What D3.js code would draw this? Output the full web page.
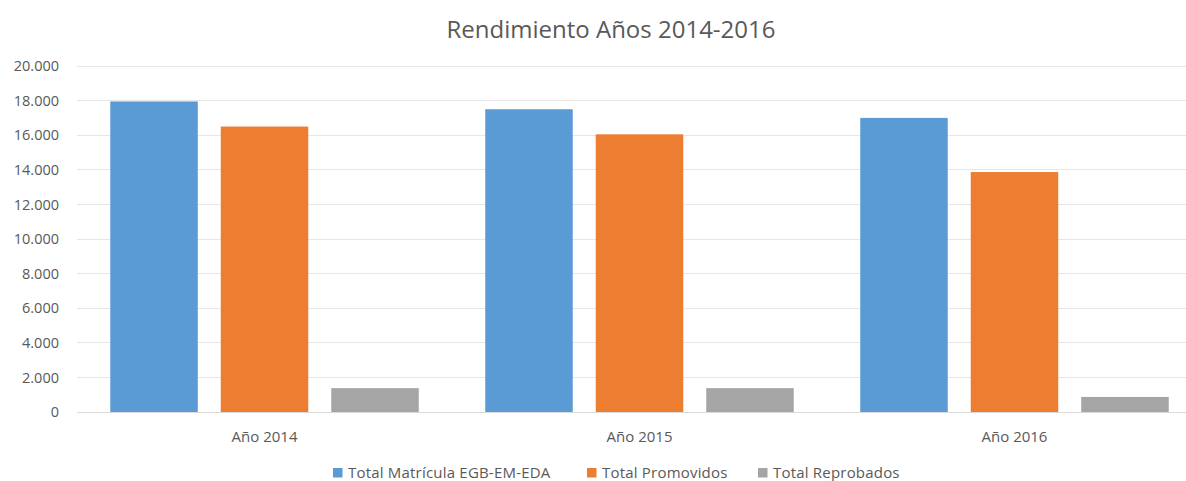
<!DOCTYPE html>
<html><head><meta charset="utf-8">
<script src="https://cdn.jsdelivr.net/npm/d3@7/dist/d3.min.js"></script>
<style>body{margin:0;background:#fff;} text{font-family:"Open Sans",sans-serif;}</style>
</head><body><svg id="c" width="1186" height="481"></svg>
<script>
const categories = ["Año 2014", "Año 2015", "Año 2016"];
const seriesNames = ["Total Matrícula EGB-EM-EDA", "Total Promovidos", "Total Reprobados"];
const matricula = [17950, 17500, 17000];
const promovidos = [16500, 16050, 13870];
const reprobados = [1380, 1380, 870];
const yTicks = [0, 2000, 4000, 6000, 8000, 10000, 12000, 14000, 16000, 18000, 20000];
const colors = ["#5b9bd5", "#ed7d31", "#a5a5a5"];
const seriesValues = [matricula, promovidos, reprobados];

(function () {
const svg = d3.select("#c");
const pLeft = 77, pRight = 1202, pTop = 66, pBottom = 412;
const y = d3.scaleLinear().domain([0, 20000]).range([pBottom, pTop]);
const x0 = d3.scaleBand().domain(categories).range([pLeft, pRight]).paddingInner(0.1773).paddingOuter(0.0887);
const x1 = d3.scaleBand().domain(seriesNames).range([0, x0.bandwidth()]).paddingInner(0.208).paddingOuter(0);
const fmt = v => d3.format(",")(v).replace(/,/g, ".");

svg.append("g").selectAll("line").data(yTicks.filter(d => d > 0)).join("line")
  .attr("x1", pLeft).attr("x2", pRight)
  .attr("y1", d => y(d)).attr("y2", d => y(d))
  .attr("stroke", "#e6e6e6").attr("stroke-width", 1).attr("shape-rendering", "crispEdges");

const yAxis = d3.axisLeft(y).tickValues(yTicks).tickFormat(fmt).tickSize(0).tickPadding(0);
const ya = svg.append("g").attr("transform", "translate(59,0)").call(yAxis);
ya.select(".domain").remove();
ya.selectAll("text").attr("fill", "#595959").style("font-size", "14.5px").style("font-family", "Open Sans");

const rows = categories.map((c, i) => ({c, vals: seriesNames.map((s, j) => ({s, v: seriesValues[j][i], col: colors[j]}))}));
const g = svg.append("g").selectAll("g").data(rows).join("g")
  .attr("transform", d => `translate(${x0(d.c)},0)`);
g.selectAll("rect").data(d => d.vals).join("rect")
  .attr("x", d => x1(d.s)).attr("width", x1.bandwidth())
  .attr("y", d => y(d.v)).attr("height", d => y(0) - y(d.v))
  .attr("fill", d => d.col);

svg.append("line").attr("x1", pLeft).attr("x2", pRight).attr("y1", pBottom + 0.5).attr("y2", pBottom + 0.5)
  .attr("stroke", "#d9d9d9");

const xAxis = d3.axisBottom(x0).tickSize(0).tickPadding(0);
const xa = svg.append("g").attr("transform", `translate(0,${pBottom + 19})`).call(xAxis);
xa.select(".domain").remove();
xa.selectAll("text").attr("fill", "#595959").style("font-size", "15px").style("font-family", "Open Sans");

svg.append("text").attr("x", 611).attr("y", 38).attr("text-anchor", "middle")
  .attr("fill", "#595959").style("font-size", "24px").text("Rendimiento Años 2014-2016");

const legX = [333, 587, 758];
const lg = svg.append("g").selectAll("g").data(seriesNames).join("g")
  .attr("transform", (d, i) => `translate(${legX[i]},468)`);
lg.append("rect").attr("width", 9.5).attr("height", 9.5).attr("fill", (d, i) => colors[i]);
lg.append("text").attr("x", 15).attr("y", 10).attr("fill", "#595959").style("font-size", "15px")
  .style("letter-spacing", "0.2px").text(d => d);
})();
</script></body></html>
